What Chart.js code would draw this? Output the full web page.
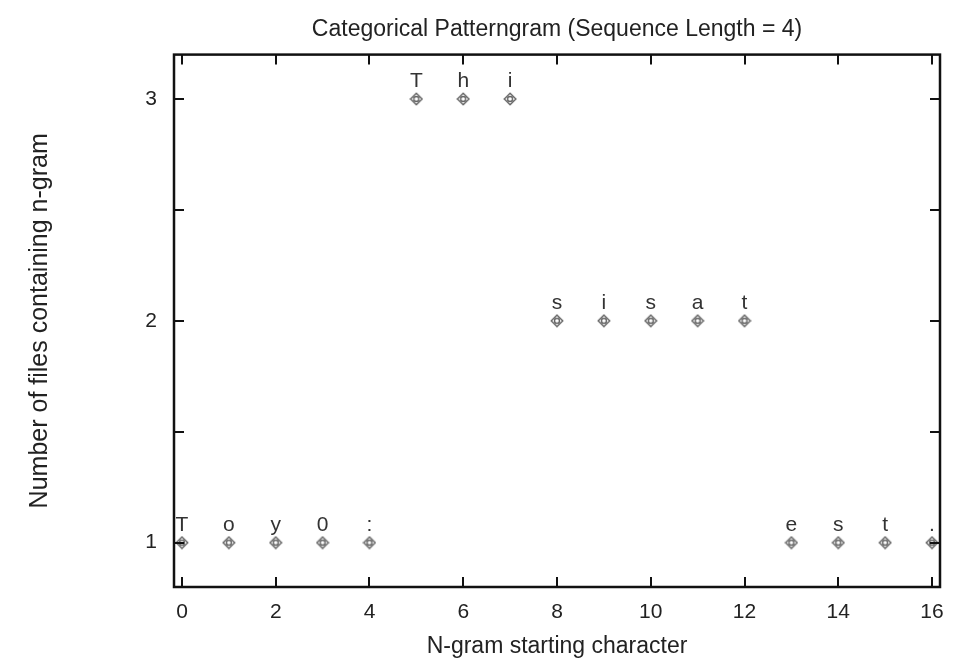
<!DOCTYPE html>
<html>
<head>
<meta charset="utf-8">
<script src="https://cdn.jsdelivr.net/npm/chart.js@4.4.1/dist/chart.umd.min.js"></script>
<style>
html,body{margin:0;padding:0;background:#fff;}
#wrap{width:963px;height:660px;position:relative;}
</style>
</head>
<body>
<div id="wrap"><canvas id="c" width="963" height="660"></canvas></div>
<script>
const positions = [0,1,2,3,4,5,6,7,8,9,10,11,12,13,14,15,16];
const counts    = [1,1,1,1,1,3,3,3,2,2,2,2,2,1,1,1,1];
const chars     = ['T','o','y','0',':','T','h','i','s','i','s','a','t','e','s','t','.'];
const xTicks = [0,2,4,6,8,10,12,14,16];
const yTicks = [1,1.5,2,2.5,3];
const yLabelled = [1,2,3];

const FONT = "'Liberation Sans','Arimo',sans-serif";

function makeMarker(){
  const c = document.createElement('canvas');
  c.width = 14; c.height = 14;
  const g = c.getContext('2d');
  g.strokeStyle = '#666';
  g.lineWidth = 1.4;
  g.beginPath();
  g.moveTo(7,1.2); g.lineTo(12.8,7); g.lineTo(7,12.8); g.lineTo(1.2,7); g.closePath();
  g.stroke();
  g.beginPath();
  g.arc(7,7,2.5,0,Math.PI*2);
  g.stroke();
  return c;
}

const framePlugin = {
  id:'frame',
  afterDatasetsDraw(chart){
    const {ctx, chartArea:a, scales:{x,y}} = chart;
    ctx.save();
    ctx.strokeStyle = '#111';
    ctx.lineWidth = 2;
    ctx.beginPath();
    xTicks.forEach(v=>{
      const px = Math.round(x.getPixelForValue(v));
      ctx.moveTo(px,a.bottom); ctx.lineTo(px,a.bottom-10);
      ctx.moveTo(px,a.top); ctx.lineTo(px,a.top+10);
    });
    yTicks.forEach(v=>{
      const py = Math.round(y.getPixelForValue(v));
      ctx.moveTo(a.left,py); ctx.lineTo(a.left+10,py);
      ctx.moveTo(a.right,py); ctx.lineTo(a.right-10,py);
    });
    ctx.stroke();
    ctx.lineWidth = 2.5;
    ctx.strokeRect(a.left, a.top, a.right-a.left, a.bottom-a.top);
    const meta = chart.getDatasetMeta(0);
    ctx.fillStyle = '#333';
    ctx.font = "21px " + FONT;
    ctx.textAlign = 'center';
    ctx.textBaseline = 'alphabetic';
    meta.data.forEach((el,i)=>{
      ctx.fillText(chars[i], el.x, el.y - 12);
    });
    ctx.restore();
  }
};

new Chart(document.getElementById('c'), {
  type:'scatter',
  data:{
    datasets:[{
      data: positions.map((p,i)=>({x:p,y:counts[i]})),
      pointStyle: makeMarker(),
      pointRadius: 7,
      showLine:false
    }]
  },
  options:{
    responsive:false,
    animation:false,
    devicePixelRatio:1,
    layout:{padding:{left:0,right:23,top:0,bottom:0}},
    plugins:{
      legend:{display:false},
      tooltip:{enabled:false},
      title:{
        display:true,
        fullSize:false,
        text:'Categorical Patterngram (Sequence Length = 4)',
        color:'#222',
        font:{family:FONT,size:23,weight:'normal'},
        padding:{top:16,bottom:11}
      }
    },
    scales:{
      x:{
        type:'linear',
        min:-0.17, max:16.17,
        afterBuildTicks(s){ s.ticks = xTicks.map(v=>({value:v})); },
        afterFit(s){ s.height = 73; },
        grid:{display:false},
        border:{display:false},
        ticks:{color:'#222',font:{family:FONT,size:21},padding:5,maxRotation:0},
        title:{display:true,text:'N-gram starting character',color:'#222',
               font:{family:FONT,size:23},padding:{top:0,bottom:0}}
      },
      y:{
        type:'linear',
        min:0.8, max:3.2,
        afterBuildTicks(s){ s.ticks = yTicks.map(v=>({value:v})); },
        afterFit(s){ s.width = 174; },
        grid:{display:false},
        border:{display:false},
        ticks:{color:'#222',font:{family:FONT,size:21},padding:9,
               callback:(v)=> yLabelled.includes(v) ? String(v) : ''},
        title:{display:true,text:'Number of files containing n-gram',color:'#222',
               font:{family:FONT,size:25},padding:{top:25,bottom:0}}
      }
    }
  },
  plugins:[framePlugin]
});
</script>
</body>
</html>
